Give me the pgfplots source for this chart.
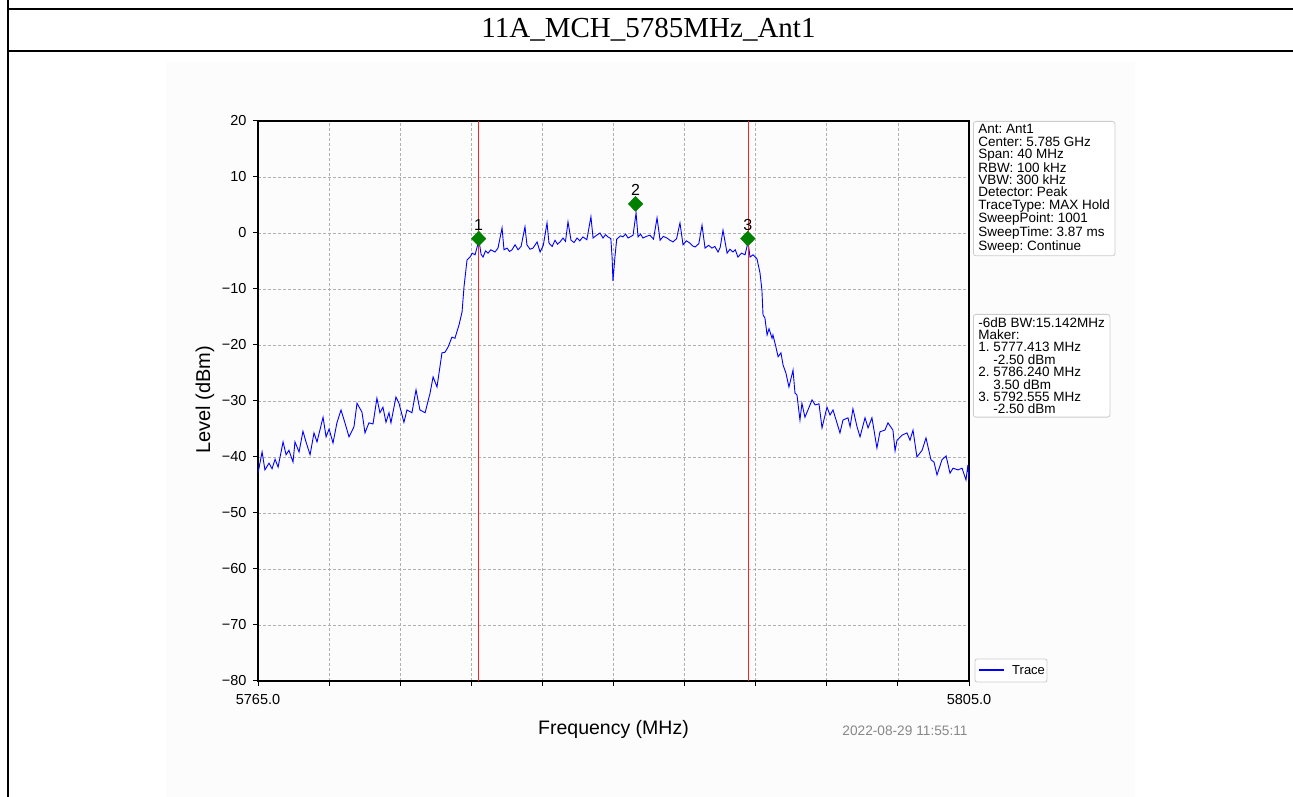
\documentclass[border=0pt]{standalone}
\usepackage{fontspec}
\setmainfont{Liberation Sans}
\newfontfamily\titlefont{Liberation Serif}
\usepackage{pgfplots}
\pgfplotsset{compat=1.18}
\usepackage{pgfplotstable}
\frenchspacing

\definecolor{mgreen}{HTML}{008000}
\definecolor{gridgray}{HTML}{B0B0B0}
\definecolor{boxgray}{HTML}{CCCCCC}
\definecolor{stamp}{HTML}{888888}
\definecolor{mred}{HTML}{FF2020}

% max-hold trace (MHz, dBm)
\pgfplotstableread{
f L
5765.00 -42.9
5765.23 -39.1
5765.39 -42.3
5765.62 -41.1
5765.79 -42.1
5765.96 -40.4
5766.13 -41.8
5766.41 -37.3
5766.58 -39.6
5766.74 -38.8
5766.97 -40.9
5767.08 -37.3
5767.31 -39.1
5767.53 -35.4
5767.70 -37.3
5767.93 -39.6
5768.15 -35.7
5768.32 -37.3
5768.66 -32.9
5768.83 -36.4
5769.00 -35.0
5769.22 -37.5
5769.44 -33.9
5769.67 -31.6
5769.89 -33.9
5770.12 -36.4
5770.40 -34.6
5770.57 -30.4
5770.85 -32.0
5771.02 -35.7
5771.24 -33.9
5771.47 -34.1
5771.69 -29.5
5771.86 -32.1
5772.03 -31.1
5772.20 -33.8
5772.37 -32.1
5772.48 -33.9
5772.76 -29.3
5772.93 -30.4
5773.21 -33.8
5773.38 -31.6
5773.66 -32.1
5773.89 -28.0
5774.11 -31.6
5774.40 -32.1
5774.68 -28.6
5774.85 -25.7
5775.07 -27.5
5775.35 -21.4
5775.52 -21.3
5775.69 -20.4
5775.91 -18.6
5776.08 -18.8
5776.31 -16.4
5776.48 -14.1
5776.59 -9.6
5776.76 -4.8
5776.93 -4.3
5777.05 -3.6
5777.21 -3.9
5777.43 -1.3
5777.55 -3.8
5777.66 -4.3
5777.80 -3.2
5777.94 -3.6
5778.10 -3.0
5778.33 -3.4
5778.50 -2.7
5778.73 0.9
5778.84 -3.0
5779.01 -2.7
5779.15 -3.3
5779.29 -3.0
5779.46 -2.1
5779.63 -3.0
5779.80 -2.4
5780.02 1.1
5780.13 -2.1
5780.30 -2.9
5780.47 -2.7
5780.70 -1.6
5780.87 -3.4
5781.05 -2.2
5781.26 1.8
5781.37 -1.8
5781.55 -2.4
5781.71 -1.3
5781.85 -2.0
5781.99 -1.6
5782.16 -0.9
5782.30 -1.5
5782.44 2.0
5782.61 -1.3
5782.78 -1.7
5782.95 -0.9
5783.10 -1.4
5783.28 -0.7
5783.50 -1.2
5783.73 2.9
5783.85 -0.9
5784.05 -0.4
5784.24 0.0
5784.41 -0.9
5784.55 -0.3
5784.69 -0.7
5784.85 -1.0
5784.92 -4.3
5784.97 -8.6
5785.08 -4.3
5785.18 -1.1
5785.25 -0.9
5785.40 -0.5
5785.53 -0.7
5785.68 -0.2
5785.82 -0.9
5786.10 -0.4
5786.27 3.6
5786.38 -0.7
5786.52 -0.2
5786.66 -0.9
5786.85 -0.6
5787.05 -0.4
5787.25 -1.1
5787.45 2.7
5787.62 -1.3
5787.80 -0.6
5788.01 -0.9
5788.18 -1.3
5788.35 -1.6
5788.55 -1.0
5788.74 1.8
5788.91 -2.1
5789.10 -1.4
5789.30 -1.8
5789.45 -2.3
5789.59 -2.5
5789.80 -1.9
5789.98 1.4
5790.15 -2.7
5790.35 -2.2
5790.54 -2.7
5790.70 -2.4
5790.88 -3.4
5791.00 -2.6
5791.16 0.5
5791.39 -3.6
5791.55 -2.9
5791.72 -3.4
5791.85 -3.0
5792.00 -4.3
5792.20 -3.6
5792.40 -3.9
5792.57 -1.6
5792.68 -4.3
5792.85 -3.9
5793.07 -4.6
5793.24 -7.1
5793.35 -10.2
5793.41 -14.6
5793.52 -15.2
5793.64 -18.2
5793.75 -17.1
5793.92 -18.8
5793.97 -18.2
5794.14 -20.4
5794.26 -22.1
5794.42 -21.4
5794.54 -23.6
5794.70 -25.0
5794.87 -27.5
5795.10 -24.5
5795.21 -28.6
5795.32 -28.9
5795.49 -33.4
5795.60 -30.4
5795.77 -32.9
5795.94 -31.6
5796.17 -29.8
5796.34 -30.7
5796.56 -30.5
5796.73 -34.8
5797.01 -31.1
5797.18 -32.5
5797.35 -31.6
5797.57 -33.9
5797.74 -35.7
5797.91 -33.4
5798.19 -33.0
5798.31 -34.6
5798.47 -31.4
5798.70 -34.6
5798.87 -36.4
5799.15 -33.0
5799.32 -34.8
5799.54 -33.0
5799.82 -38.4
5799.99 -35.5
5800.27 -35.2
5800.44 -33.9
5800.72 -35.2
5800.84 -38.9
5800.95 -37.0
5801.23 -36.1
5801.51 -35.7
5801.68 -37.0
5801.85 -35.2
5802.07 -40.0
5802.36 -38.8
5802.58 -36.6
5802.86 -40.5
5803.03 -40.9
5803.20 -43.2
5803.48 -40.5
5803.71 -39.8
5803.93 -42.9
5804.10 -42.0
5804.38 -42.3
5804.61 -42.0
5804.83 -44.1
5804.94 -41.4
5805.00 -44.1
}\trace

\begin{document}
\begin{tikzpicture}
\path[use as bounding box] (0pt,0pt) rectangle (1293pt,797pt);
\fill[black!1] (166pt,735pt) rectangle (1135pt,0pt);
% report frame
\draw[line width=2pt] (7.5pt,797pt) -- (7.5pt,0pt);
\draw[line width=2pt] (6.5pt,788pt) -- (1293pt,788pt);
\draw[line width=2pt] (6.5pt,746pt) -- (1293pt,746pt);
\node[font=\titlefont\fontsize{29}{32}\selectfont] at (648.5pt,767pt) {11A\_MCH\_5785MHz\_Ant1};

\begin{axis}[
  at={(258pt,116pt)}, anchor=south west,
  width=711pt, height=560pt, scale only axis,
  xmin=5765, xmax=5805, ymin=-80, ymax=20,
  xtick={5765,5769,...,5805},
  xticklabels={5765.0,,,,,,,,,,5805.0},
  ytick={-80,-70,...,20},
  yticklabels={−80,−70,−60,−50,−40,−30,−20,−10,0,10,20},
  tick align=outside, xtick pos=bottom, ytick pos=left,
  major tick length=5pt,
  tick style={black, line width=1pt},
  axis line style={black, line width=1.2pt},
  grid=major,
  major grid style={gridgray, dash pattern=on 3pt off 2pt, line width=0.7pt},
  tick label style={font=\fontsize{14.5}{16}\selectfont},
  xticklabel style={yshift=-5pt},
  yticklabel style={xshift=-3pt},
  /pgf/number format/assume math mode=true,
]
\addplot[color=blue, line width=0.9pt] table[x=f, y=L] {\trace};
\addplot[mred, line width=1.1pt] coordinates {(5777.413,-80) (5777.413,20)};
\addplot[mred, line width=1.1pt] coordinates {(5792.57,-80) (5792.57,20)};
\addplot[only marks, mark=diamond*, mark size=7.5pt, mgreen,
  mark options={xscale=1.3},
  nodes near coords, point meta=explicit symbolic,
  nodes near coords style={black, font=\fontsize{16}{18}\selectfont, anchor=center, yshift=14pt}]
  coordinates {(5777.413,-1) [1] (5786.24,5.2) [2] (5792.555,-1) [3]};
\end{axis}

% legend box
\draw[boxgray, fill=white, line width=0.8pt, rounded corners=2pt] (975pt,115pt) rectangle (1047pt,138pt);
\draw[blue, line width=1.3pt] (979pt,127pt) -- (1004pt,127pt);
\node[anchor=west, inner sep=0pt, font=\fontsize{13}{15}\selectfont] at (1012pt,127pt) {Trace};

\node[rotate=90, anchor=base, font=\fontsize{20}{22}\selectfont] at (210pt,397pt) {Level (dBm)};
\node[anchor=base, font=\fontsize{19.5}{22}\selectfont] at (613.5pt,62pt) {Frequency (MHz)};
\node[anchor=center, text=stamp, font=\fontsize{13.7}{15}\selectfont] at (905pt,66pt) {2022-08-29 11:55:11};

\node[anchor=north west, draw=boxgray, fill=white, rounded corners=2.5pt, line width=0.8pt,
  inner xsep=5pt, inner ysep=3pt, align=left, font=\fontsize{13.5}{12.4}\selectfont]
  at (973pt,676pt) {Ant: Ant1\\Center: 5.785 GHz\\Span: 40 MHz\\RBW: 100 kHz\\VBW: 300 kHz\\Detector: Peak\\TraceType: MAX Hold\\SweepPoint: 1001\\SweepTime: 3.87 ms\\Sweep: Continue};

\node[anchor=north west, draw=boxgray, fill=white, rounded corners=2.5pt, line width=0.8pt,
  inner xsep=5pt, inner ysep=3pt, align=left, font=\fontsize{13.5}{12.4}\selectfont]
  at (973pt,483pt) {-6dB BW:15.142MHz\\Maker:\\1. 5777.413 MHz\\\hspace*{15pt}-2.50 dBm\\2. 5786.240 MHz\\\hspace*{15pt}3.50 dBm\\3. 5792.555 MHz\\\hspace*{15pt}-2.50 dBm};
\end{tikzpicture}
\end{document}
